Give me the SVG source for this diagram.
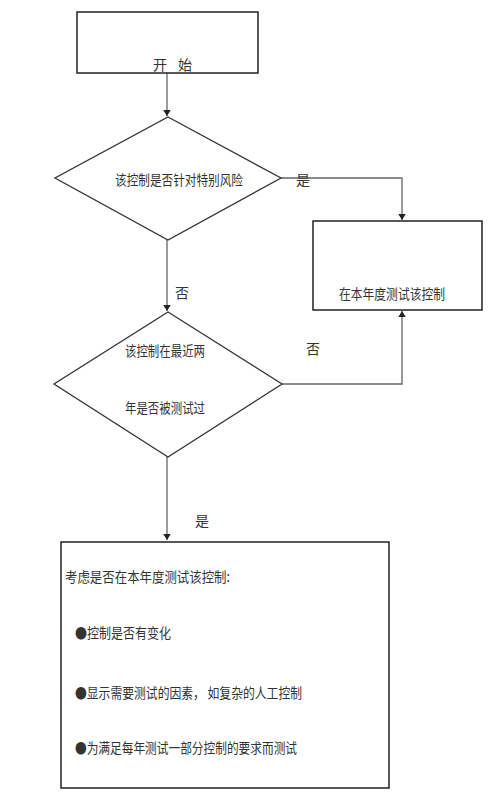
<svg xmlns="http://www.w3.org/2000/svg" width="500" height="800" viewBox="0 0 500 800">
<style>
.box{fill:#fff;stroke:#222;stroke-width:1.5}
.dia{fill:#fff;stroke:#333;stroke-width:1.3}
.conn{fill:none;stroke:#666;stroke-width:1.3}
text{font-family:"Noto Sans CJK SC","Noto Sans CJK JP",sans-serif;font-size:14px;fill:#333}
.c{text-anchor:middle}
</style>
<defs>
<marker id="ah" viewBox="0 0 8 12" refX="8" refY="6" markerWidth="6" markerHeight="9" markerUnits="userSpaceOnUse" orient="auto">
<path d="M0,1 L8,6 L0,11 Z" fill="#222"/>
</marker>
</defs>
<rect width="500" height="800" fill="#fff"/>
<g id="connectors">
<line class="conn" x1="167" y1="73" x2="167" y2="116" marker-end="url(#ah)"/>
<polyline class="conn" points="281,178 402,178 402,220" marker-end="url(#ah)"/>
<line class="conn" x1="167" y1="240" x2="167" y2="311" marker-end="url(#ah)"/>
<polyline class="conn" points="282,384 402,384 402,311" marker-end="url(#ah)"/>
<line class="conn" x1="167" y1="457" x2="167" y2="540" marker-end="url(#ah)"/>
<text x="303" y="185" class="c">是</text>
<text x="182" y="298" class="c">否</text>
<text x="313" y="354" class="c">否</text>
<text x="202" y="526" class="c">是</text>
</g>
<g id="start">
<rect class="box" x="77" y="12" width="181" height="61"/>
<text x="160" y="70" class="c">开</text>
<text x="185" y="70" class="c">始</text>
</g>
<g id="decision1">
<polygon class="dia" points="168,117 281,178 168,240 55,178"/>
<text x="179" y="185" class="c" textLength="128" lengthAdjust="spacingAndGlyphs">该控制是否针对特别风险</text>
</g>
<g id="testThisYear">
<rect class="box" x="313" y="221" width="169" height="89"/>
<text x="392" y="299" class="c" textLength="106" lengthAdjust="spacingAndGlyphs">在本年度测试该控制</text>
</g>
<g id="decision2">
<polygon class="dia" points="168,312 282,384 168,457 54,384"/>
<text x="165" y="356" class="c" textLength="80" lengthAdjust="spacingAndGlyphs">该控制在最近两</text>
<text x="165" y="413" class="c" textLength="80" lengthAdjust="spacingAndGlyphs">年是否被测试过</text>
</g>
<g id="consider">
<rect class="box" x="61" y="542" width="328" height="246"/>
<text x="65" y="582" textLength="165" lengthAdjust="spacingAndGlyphs">考虑是否在本年度测试该控制:</text>
<text x="75" y="638" textLength="96" lengthAdjust="spacingAndGlyphs">●控制是否有变化</text>
<text x="75" y="698" textLength="227" lengthAdjust="spacingAndGlyphs">●显示需要测试的因素， 如复杂的人工控制</text>
<text x="75" y="753" textLength="222" lengthAdjust="spacingAndGlyphs">●为满足每年测试一部分控制的要求而测试</text>
</g>
</svg>
